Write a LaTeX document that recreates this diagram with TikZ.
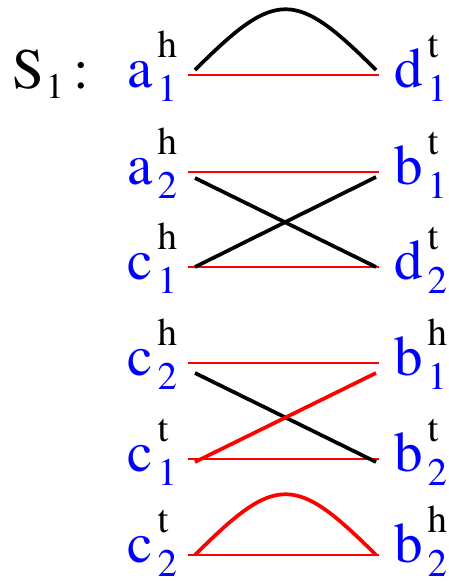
\documentclass[tikz,border=0pt]{standalone}
\usepackage[T1]{fontenc}
\usepackage{mathptmx}
% vertex label: blue letter, black super, blue sub
\newcommand{\vtx}[3]{\fontsize{57}{60}\selectfont\textcolor{blue}{#1}\hspace{5pt}%
\rlap{\raisebox{30pt}{\fontsize{39}{40}\selectfont #2}}%
\raisebox{-14pt}{\fontsize{39}{40}\selectfont\textcolor{blue}{#3}}}
\begin{document}
\begin{tikzpicture}[x=1pt,y=-1pt,
  lab/.style={anchor=base west,inner sep=0pt},
  redline/.style={red,line width=2.3pt},
  blackline/.style={black,line width=3.7pt},
  redthick/.style={red,line width=3.7pt}]
\useasboundingbox (0,0) rectangle (449,582);
\node[lab] (s1) at (12,88) {\fontsize{57}{60}\selectfont S\hspace{2pt}\raisebox{-10pt}{\fontsize{36}{38}\selectfont 1}\hspace{10pt}:};
% left column
\node[lab] (a1h) at (127,87) {\vtx{a}{h}{1}};
\node[lab] (a2h) at (127,184) {\vtx{a}{h}{2}};
\node[lab] (c1h) at (127,279) {\vtx{c}{h}{1}};
\node[lab] (c2h) at (127,375) {\vtx{c}{h}{2}};
\node[lab] (c1t) at (127,471) {\vtx{c}{t}{1}};
\node[lab] (c2t) at (127,562) {\vtx{c}{t}{2}};
% right column
\node[lab] (d1t) at (394,87) {\vtx{d}{t}{1}};
\node[lab] (b1t) at (394,184) {\vtx{b}{t}{1}};
\node[lab] (d2t) at (394,279) {\vtx{d}{t}{2}};
\node[lab] (b1h) at (394,375) {\vtx{b}{h}{1}};
\node[lab] (b2t) at (394,471) {\vtx{b}{t}{2}};
\node[lab] (b2h) at (394,562) {\vtx{b}{h}{2}};
% ports: -e outer end, -i inner end
\coordinate (a1h-e) at (188,75);  \coordinate (d1t-e) at (379,75);
\coordinate (a1h-i) at (195,70);  \coordinate (d1t-i) at (376,70);
\coordinate (a2h-e) at (188,172); \coordinate (b1t-e) at (379,172);
\coordinate (a2h-i) at (195,178); \coordinate (b1t-i) at (376,177);
\coordinate (c1h-e) at (188,267); \coordinate (d2t-e) at (379,267);
\coordinate (c1h-i) at (195,267); \coordinate (d2t-i) at (376,267);
\coordinate (c2h-e) at (188,363); \coordinate (b1h-e) at (379,363);
\coordinate (c2h-i) at (195,373); \coordinate (b1h-i) at (376,373);
\coordinate (c1t-e) at (188,459); \coordinate (b2t-e) at (379,459);
\coordinate (c1t-i) at (195,462); \coordinate (b2t-i) at (376,462);
\coordinate (c2t-e) at (188,555); \coordinate (b2h-e) at (379,555);
\coordinate (c2t-i) at (195,555); \coordinate (b2h-i) at (376,555);
% red edges
\draw[redline] (a1h-e) -- (d1t-e);
\draw[redline] (a2h-e) -- (b1t-e);
\draw[redline] (c1h-e) -- (d2t-e);
\draw[redline] (c2h-e) -- (b1h-e);
\draw[redline] (c1t-e) -- (b2t-e);
\draw[redline] (c2t-e) -- (b2h-e);
% black edges
\draw[blackline] (a1h-i) .. controls (276,-11) and (295,-11) .. (d1t-i);
\draw[blackline] (a2h-i) -- (d2t-i);
\draw[blackline] (c1h-i) -- (b1t-i);
\draw[blackline] (c2h-i) -- (b2t-i);
% red thick edges
\draw[redthick] (c1t-i) -- (b1h-i);
\draw[redthick] (c2t-i) .. controls (276,474) and (295,474) .. (b2h-i);
\end{tikzpicture}
\end{document}
